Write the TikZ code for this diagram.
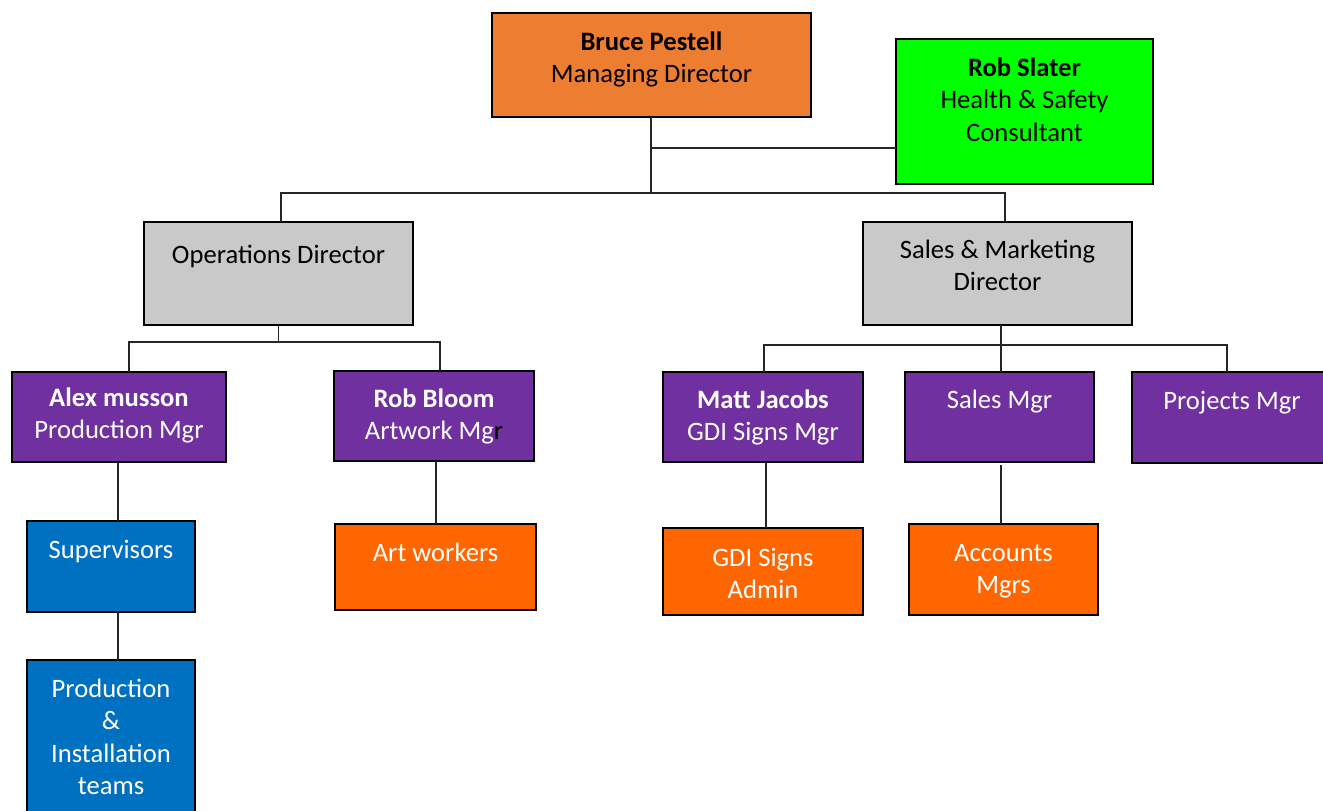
\documentclass[tikz,border=0pt]{standalone}
\usepackage{fontspec}
\setmainfont{Carlito}
\definecolor{mdorange}{HTML}{ED7D31}
\definecolor{hsgreen}{HTML}{00FF00}
\definecolor{dirgrey}{HTML}{C9C9C9}
\definecolor{mgrpurple}{HTML}{7030A0}
\definecolor{supblue}{HTML}{0070C0}
\definecolor{staffor}{HTML}{FF6600}
\newcommand\bx[4]{\parbox[c][#2pt][t]{#1pt}{\centering\vspace*{\dimexpr#3pt+1pt\relax}\strut #4}}
\begin{document}
\begin{tikzpicture}[x=1pt,y=-1pt,
  every node/.style={font=\fontsize{26.6}{32.3}\selectfont},
  box/.style={draw=black, line width=2pt, inner sep=0pt, outer sep=0pt},
  link/.style={draw=black!85, line width=1.5pt}]
\useasboundingbox (0,0) rectangle (1323,811);
\clip (0,0) rectangle (1323,811);
% boxes
\node[box, fill=mdorange, text=black] (bruce) at (651.5,65) {\bx{319}{104}{14}{\textbf{Bruce Pestell}\\Managing Director}};
\node[box, fill=hsgreen, text=black] (rs) at (1024.5,111.5) {\bx{257}{145}{14}{\textbf{Rob Slater}\\Health \& Safety\\Consultant}};
\node[box, fill=dirgrey, text=black] (ops) at (278.5,273.5) {\bx{269}{103}{18}{Operations Director}};
\node[box, fill=dirgrey, text=black] (sm) at (997.5,273.5) {\bx{269}{103}{13}{Sales \& Marketing\\Director}};
\node[box, fill=mgrpurple, text=white] (alex) at (119,417) {\bx{214}{90}{11}{\textbf{Alex musson}\\Production Mgr}};
\node[box, fill=mgrpurple, text=white] (rb) at (434,416) {\bx{200}{90}{13}{\textbf{Rob Bloom}\\Artwork Mg{\color{black}r}}};
\node[box, fill=mgrpurple, text=white] (mj) at (763,417) {\bx{200}{90}{13}{\textbf{Matt Jacobs}\\GDI Signs Mgr}};
\node[box, fill=mgrpurple, text=white] (smgr) at (999.5,417) {\bx{189}{90}{13}{Sales Mgr}};
\node[box, fill=mgrpurple, text=white] (pm) at (1232,417.5) {\bx{200}{91}{14}{Projects Mgr}};
\node[box, fill=supblue, text=white] (sup) at (111,566.5) {\bx{168}{91}{14}{Supervisors}};
\node[box, fill=supblue, text=white] (pit) at (111,745) {\bx{168}{170}{14}{Production\\\&\\Installation\\teams}};
\node[box, fill=staffor, text=white] (aw) at (435.5,567) {\bx{201}{86}{14}{Art workers}};
\node[box, fill=staffor, text=white] (gdia) at (763,571.5) {\bx{200}{87}{15}{GDI Signs\\Admin}};
\node[box, fill=staffor, text=white] (acc) at (1003.5,569.5) {\bx{189}{91}{14}{Accounts\\Mgrs}};
% junction coordinates
\coordinate (j0) at (651,148);
\coordinate (j1) at (651,193);
\coordinate (b1l) at (281,193);
\coordinate (b1r) at (1005,193);
\coordinate (b2l) at (129,342);
\coordinate (b2r) at (440,342);
\coordinate (b3l) at (764,345);
\coordinate (b3m) at (1001,345);
\coordinate (b3r) at (1227,345);
\coordinate (d1) at (118,0);
\coordinate (d2) at (436,0);
\coordinate (d3) at (766,0);
\coordinate (d4) at (1001,465);
% connectors
\draw[link] (bruce.south -| j1) -- (j1);
\draw[link] (j0) -- (j0 -| rs.west);
\draw[link] (b1l |- ops.north) -- (b1l) -- (b1r) -- (b1r |- sm.north);
\draw[link] (ops.south) -- (ops.south |- b2l);
\draw[link] (b2l |- alex.north) -- (b2l) -- (b2r) -- (b2r |- rb.north);
\draw[link] (sm.south -| b3m) -- (b3m);
\draw[link] (b3l |- mj.north) -- (b3l) -- (b3r) -- (b3r |- pm.north);
\draw[link] (b3m) -- (b3m |- smgr.north);
\draw[link] (d1 |- alex.south) -- (d1 |- sup.north);
\draw[link] (d1 |- sup.south) -- (d1 |- pit.north);
\draw[link] (d2 |- rb.south) -- (d2 |- aw.north);
\draw[link] (d3 |- mj.south) -- (d3 |- gdia.north);
\draw[link] (d4) -- (d4 |- acc.north);
\end{tikzpicture}
\end{document}
